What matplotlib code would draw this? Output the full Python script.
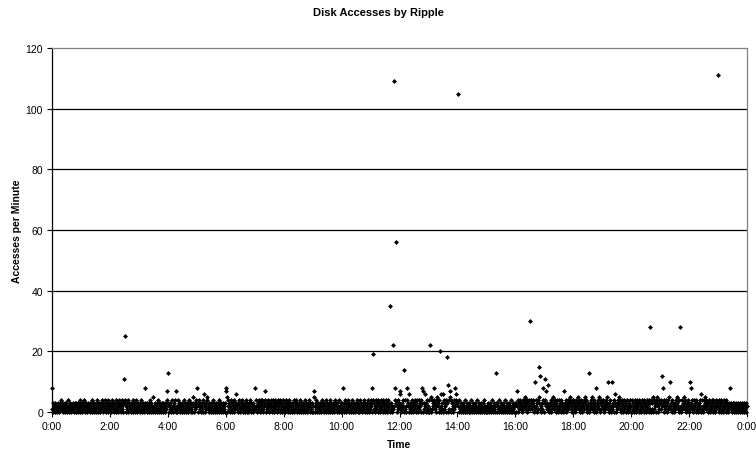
import matplotlib
matplotlib.use("Agg")
import matplotlib.pyplot as plt
import numpy as np

plt.rcParams['font.family'] = ['Liberation Sans', 'DejaVu Sans']

title = "Disk Accesses by Ripple"
x_label = "Time"
y_label = "Accesses per Minute"
x_tick_labels = ["0:00", "2:00", "4:00", "6:00", "8:00", "10:00", "12:00",
                 "14:00", "16:00", "18:00", "20:00", "22:00", "0:00"]
y_ticks = [0, 20, 40, 60, 80, 100, 120]

# Per-minute baseline counts, one string of 60 minutes per hour (read/estimated from the band)
band_hours = [
    "0103120312 0132102314 1203213021 3102401321 0213201320 3120312043",
    "2130213402 1320132103 2140312031 2013420312 0312403124 1302140321",
    "3120423103 2140312034 1203241302 3140213042 3120312403 2130412031",
    "1203142031 2034120312 0314203120 4213021304 1203120321 0312031204",
    "3120312041 2032140312 0413203120 3124031203 2104312031 2031203142",
    "2130421302 1304213021 3042103120 3214031203 1203120421 3021302130",
    "1130421302 4130213042 1302130421 0312402130 2140312031 2403120312",
    "1324023142 0314234102 3412031420 3124302143 0241320314 2304132041",
    "3102413203 1420312031 2403124031 2031402132 0312403120 3124031203",
    "2031203142 0312031204 3120312403 1203120413 2031204312 0312041203",
    "1302130412 0312403120 3142031203 1420312041 3120312403 1203142031",
    "2413024130 2413204132 0413204132 0413024132 0413204132 0413204132",
    "3142031420 3142041320 4132041320 3142031420 4132041320 3142031420",
    "2041350413 2041320453 2041320413 5041320413 2041350413 2041320413",
    "3120412031 2031204120 3120312041 2031203120 4120312031 2031204120",
    "1203120312 0412031203 1203120412 0312031204 1203120312 0412031203",
    "2031204312 4130241324 5132041324 1534213420 3142031425 3142031420",
    "3142531420 1324013425 3142031420 4132041320 5132041324 1325413204",
    "4132041325 3142034120 3241532410 3240132415 3241032401 3241530412",
    "3142031425 3142031420 4132041320 3142531420 4132041320 3142031420",
    "2041320413 2041320413 2041320413 2041320413 2041350413 2045320413",
    "3142531420 3142031425 4132041320 3142531420 4132041325 3142031420",
    "3142031420 4132041320 3142031420 4132541320 3142031420 4132041320",
    "2041320413 2041320413 2031203120 3120312031 2031203120 3120312032",
]

# Higher readings (time of day, accesses per minute)
peak_times = ["0:00", "2:29", "2:31", "3:13", "3:30", "3:58", "4:01", "4:17", "4:53",
              "5:01", "5:15", "5:21", "6:00", "6:01", "6:02", "6:22", "7:01", "7:22",
              "9:02", "9:03", "10:02", "11:02", "11:05", "11:41", "11:46", "11:48",
              "11:50", "11:52", "12:00", "12:02", "12:10", "12:16", "12:20", "12:46",
              "12:48", "12:52", "13:04", "13:11", "13:24", "13:27", "13:30", "13:38",
              "13:40", "13:44", "13:56", "13:58", "14:01", "15:20", "16:03", "16:31",
              "16:40", "16:48", "16:52", "16:58", "17:01", "17:04", "17:07", "17:40",
              "18:32", "18:47", "19:12", "19:20", "19:26", "20:40", "21:04", "21:06",
              "21:20", "21:42", "22:02", "22:04", "22:25", "22:59", "23:25"]
peak_values = [8, 11, 25, 8, 5, 7, 13, 7, 5,
               8, 6, 5, 8, 7, 5, 6, 8, 7,
               7, 5, 8, 8, 19, 35, 22, 109,
               8, 56, 7, 6, 14, 8, 6, 8,
               7, 6, 22, 8, 20, 6, 6, 18,
               9, 7, 8, 6, 105, 13, 7, 30,
               10, 15, 12, 8, 11, 7, 9, 7,
               13, 8, 10, 10, 6, 28, 12, 8,
               10, 28, 10, 8, 6, 111, 8]

band = "".join(h.replace(" ", "") for h in band_hours)
values = np.array([int(c) for c in band], dtype=float)
for t, v in zip(peak_times, peak_values):
    hh, mm = t.split(":")
    values[int(hh) * 60 + int(mm)] = v
minutes = np.arange(len(values))

W, H = 756, 452
fig = plt.figure(figsize=(W / 100, H / 100), dpi=100)
ax = fig.add_axes([52 / W, 1 - 413 / H, (747 - 52) / W, (413 - 49) / H])

for y in y_ticks[1:-1]:
    ax.axhline(y, color="black", lw=0.9, zorder=1)

ax.plot(minutes, values, linestyle="none", marker="D", markersize=2.0,
        markerfacecolor="black", markeredgecolor="black", markeredgewidth=0.5, zorder=3,
        clip_on=False)

ax.set_xlim(0, 1440)
ax.set_ylim(0, 120)
ax.set_xticks(np.arange(0, 1441, 120))
ax.set_xticklabels(x_tick_labels)
ax.set_yticks(y_ticks)
ax.tick_params(axis="both", direction="out", length=3.5, width=0.8, labelsize=7.5, pad=3,
               colors="black")

ax.spines["left"].set_color("black")
ax.spines["bottom"].set_color("black")
ax.spines["left"].set_linewidth(0.9)
ax.spines["bottom"].set_linewidth(0.9)
ax.spines["top"].set_color("#808080")
ax.spines["right"].set_color("#808080")
ax.spines["top"].set_linewidth(0.9)
ax.spines["right"].set_linewidth(0.9)

fig.text(378 / W, 1 - 13 / H, title, ha="center", va="center", fontsize=8, fontweight="bold")
fig.text(17 / W, 1 - 231 / H, y_label, ha="center", va="center", rotation=90,
         fontsize=7.5, fontweight="bold")
fig.text(399 / W, 1 - 445 / H, x_label, ha="center", va="center", fontsize=7.5,
         fontweight="bold")

fig.savefig("out.png", dpi=100)
